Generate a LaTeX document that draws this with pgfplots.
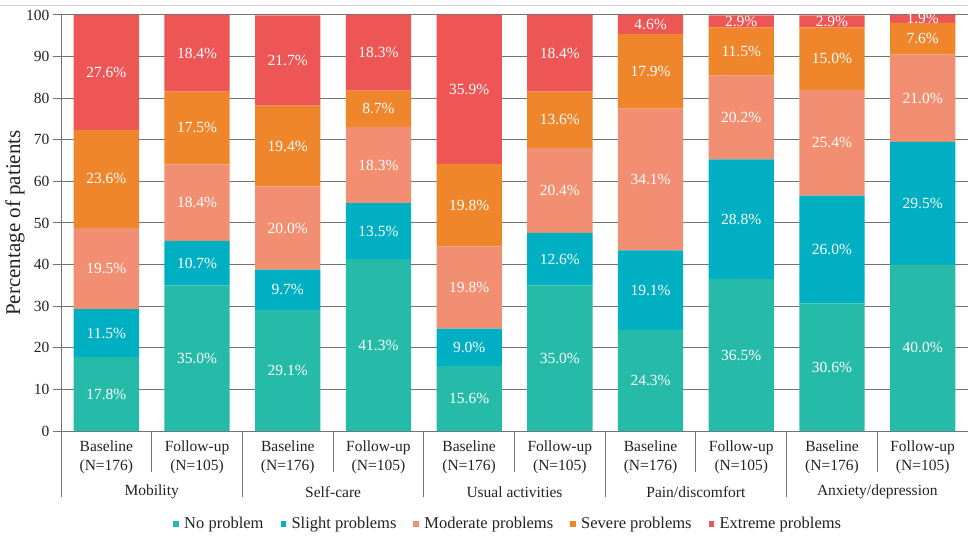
\documentclass[border=0pt]{standalone}
\usepackage{fontspec}
\setmainfont{Liberation Serif}
\usepackage{pgfplots}
\usepackage{pgfplotstable}
\pgfplotsset{compat=1.18}

\definecolor{cnone}{HTML}{26BBA9}
\definecolor{cslight}{HTML}{00AFC1}
\definecolor{cmod}{HTML}{F28F72}
\definecolor{csev}{HTML}{F0862B}
\definecolor{cext}{HTML}{EE5555}
\definecolor{txt}{HTML}{222222}
\definecolor{gridc}{HTML}{737373}

% EQ-5D dimensions, baseline / follow-up, percent of patients
\pgfplotstableread{
x  p1   p2   p3   p4   p5
0  17.8 11.5 19.5 23.6 27.6
1  35.0 10.7 18.4 17.5 18.4
2  29.1 9.7  20.0 19.4 21.7
3  41.3 13.5 18.3 8.7  18.3
4  15.6 9.0  19.8 19.8 35.9
5  35.0 12.6 20.4 13.6 18.4
6  24.3 19.1 34.1 17.9 4.6
7  36.5 28.8 20.2 11.5 2.9
8  30.6 26.0 25.4 15.0 2.9
9  40.0 29.5 21.0 7.6  1.9
}\eqdata

\pgfplotsset{
  seg/.style 2 args={fill=#1, draw=none,
    point meta=\thisrow{#2},
    legend image code/.code={\fill[#1] (0pt,-2.7pt) rectangle (5.6pt,2.9pt);
      \path (9pt,0pt);}},
}

\begin{document}
\begin{tikzpicture}
\useasboundingbox (-61pt,-107pt) rectangle (907pt,431pt);
\draw[black!18, line width=1pt] (-61pt,425pt) -- (907pt,425pt);
\begin{axis}[
  at={(0pt,0pt)}, anchor=south west,
  scale only axis, width=907pt, height=416pt,
  ybar stacked, bar width=0.72,
  ymin=0, ymax=100, xmin=-0.5, xmax=9.5,
  ytick={0,10,...,100},
  xtick={0,...,9},
  xticklabels={{Baseline\\(N=176)},{Follow-up\\(N=105)},
    {Baseline\\(N=176)},{Follow-up\\(N=105)},
    {Baseline\\(N=176)},{Follow-up\\(N=105)},
    {Baseline\\(N=176)},{Follow-up\\(N=105)},
    {Baseline\\(N=176)},{Follow-up\\(N=105)}},
  xticklabel style={align=center, font=\fontsize{15.5}{19}\selectfont, text=txt, yshift=-6pt},
  yticklabel style={font=\fontsize{15.5}{18}\selectfont, text=txt},
  /pgf/number format/assume math mode=true,
  major x tick style={draw=none},
  ytick align=outside, major tick length=8pt,
  axis lines*=left,
  axis line style={-, draw=gridc, line width=1pt},
  every tick/.style={gridc, line width=1pt},
  ymajorgrids,
  major grid style={gridc, line width=1pt},
  ylabel={Percentage of patients},
  every axis y label/.style={at={(axis description cs:0,0.5)}, xshift=-46pt,
    rotate=90, anchor=center, font=\fontsize{21}{24}\selectfont, text=txt},
  nodes near coords={\pgfmathprintnumber[fixed,fixed zerofill,precision=1]{\pgfplotspointmeta}\%},
  nodes near coords align={center},
  every node near coord/.append style={anchor=center, text=white,
    font=\fontsize{15.5}{18}\selectfont},
  legend style={draw=none, fill=none, legend columns=-1,
    at={(0.493,-0.2236)}, anchor=center,
    font=\fontsize{16.5}{19}\selectfont, text=txt,
    /tikz/every even column/.append style={column sep=15pt}},
  clip=false,
]
\addplot[seg={cnone}{p1}] table[x=x, y=p1] {\eqdata};
\addplot[seg={cslight}{p2}] table[x=x, y=p2] {\eqdata};
\addplot[seg={cmod}{p3}] table[x=x, y=p3] {\eqdata};
\addplot[seg={csev}{p4}] table[x=x, y=p4] {\eqdata};
\addplot[seg={cext}{p5}] table[x=x, y=p5] {\eqdata};
\legend{No problem, Slight problems, Moderate problems, Severe problems, Extreme problems}

% separators below the axis
\pgfplotsinvokeforeach{0.5,2.5,4.5,6.5,8.5}{
  \draw[gridc, line width=1pt] (axis cs:#1,0) -- ++(0pt,-41pt);}
\pgfplotsinvokeforeach{-0.5,1.5,3.5,5.5,7.5,9.5}{
  \draw[gridc, line width=1pt] (axis cs:#1,0) -- ++(0pt,-66pt);}
\node[font=\fontsize{15.5}{18}\selectfont, text=txt, yshift=-61pt] at (axis cs:0.5,0) {Mobility};
\node[font=\fontsize{15.5}{18}\selectfont, text=txt, yshift=-61pt] at (axis cs:2.5,0) {Self-care};
\node[font=\fontsize{15.5}{18}\selectfont, text=txt, yshift=-61pt] at (axis cs:4.5,0) {Usual activities};
\node[font=\fontsize{15.5}{18}\selectfont, text=txt, yshift=-61pt] at (axis cs:6.5,0) {Pain/discomfort};
\node[font=\fontsize{15.5}{18}\selectfont, text=txt, yshift=-61pt] at (axis cs:8.5,0) {Anxiety/depression};
\end{axis}
\end{tikzpicture}
\end{document}
